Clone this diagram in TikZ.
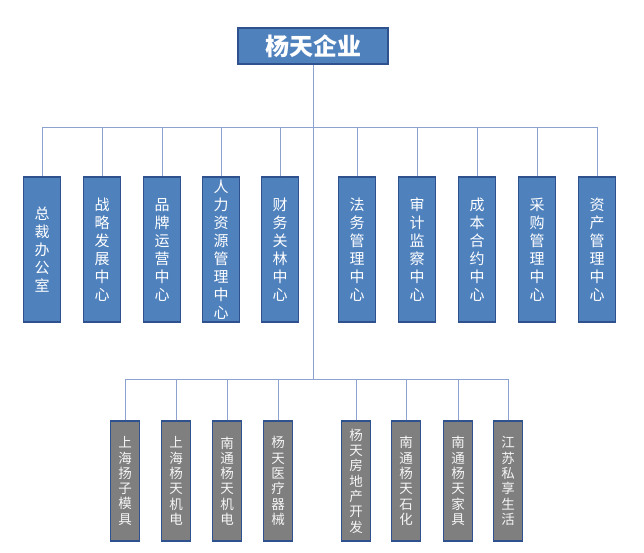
\documentclass[tikz,border=0pt]{standalone}
\usepackage{fontspec}
\setmainfont{Noto Sans CJK SC}
\usepackage{tikz}
\usepackage{xcolor}

\definecolor{boxblue}{HTML}{4F81BD}
\definecolor{edgeblue}{HTML}{2F528F}
\definecolor{boxgray}{HTML}{7F7F7F}
\definecolor{linkblue}{HTML}{8DA3CF}

\begin{document}
\begin{tikzpicture}[x=1pt, y=-1pt,
    dept/.style={draw=edgeblue, line width=1.2pt, fill=boxblue, text=white,
        minimum width=37pt, minimum height=145pt, inner sep=0pt, align=center,
        font=\fontsize{15}{18}\selectfont},
    firm/.style={draw=edgeblue, line width=1.2pt, fill=boxgray, text=white!92!gray,
        minimum width=29.5pt, minimum height=120pt, inner sep=0pt, align=center,
        font=\fontsize{13.5}{15.3}\selectfont},
    link/.style={draw=linkblue, line width=0.9pt}]
                \useasboundingbox (0, 0) rectangle (644, 552);

                \node[draw=edgeblue, line width=1.2pt, fill=boxblue, text=white,
                    minimum width=150pt, minimum height=36pt,
                    font=\fontsize{24}{28}\selectfont\bfseries] (corp) at (313, 46) {杨天企业};

                \coordinate (upbar) at (313, 127);
                \coordinate (lowbar) at (313, 379);

                % departments
                \node[dept] (zongcai) at (42, 249.5) {总\\裁\\办\\公\\室};
                \node[dept] (zhanlue) at (102, 249.5) {战\\略\\发\\展\\中\\心};
                \node[dept] (pinpai) at (162, 249.5) {品\\牌\\运\\营\\中\\心};
                \node[dept] (renli) at (221, 249.5) {人\\力\\资\\源\\管\\理\\中\\心};
                \node[dept] (caiwu) at (280, 249.5) {财\\务\\关\\林\\中\\心};
                \node[dept] (fawu) at (357, 249.5) {法\\务\\管\\理\\中\\心};
                \node[dept] (shenji) at (417, 249.5) {审\\计\\监\\察\\中\\心};
                \node[dept] (chengben) at (477, 249.5) {成\\本\\合\\约\\中\\心};
                \node[dept] (caigou) at (537, 249.5) {采\\购\\管\\理\\中\\心};
                \node[dept] (zichan) at (597, 249.5) {资\\产\\管\\理\\中\\心};

                % companies
                \node[firm] (yangzi) at (125, 481) {上\\海\\扬\\子\\模\\具};
                \node[firm] (jidian) at (176, 481) {上\\海\\杨\\天\\机\\电};
                \node[firm] (ntjidian) at (227, 481) {南\\通\\杨\\天\\机\\电};
                \node[firm] (yiliao) at (278, 481) {杨\\天\\医\\疗\\器\\械};
                \node[firm] (fangchan) at (356, 481) {杨\\天\\房\\地\\产\\开\\发};
                \node[firm] (shihua) at (406, 481) {南\\通\\杨\\天\\石\\化};
                \node[firm] (jiaju) at (458, 481) {南\\通\\杨\\天\\家\\具};
                \node[firm] (shenghuo) at (508, 481) {江\\苏\\私\\享\\生\\活};

                \draw[link]
                (corp.south) -- (lowbar)
                (zongcai.north |- upbar) -- (zichan.north |- upbar)
                (zongcai.north) -- (zongcai.north |- upbar)
                (zhanlue.north) -- (zhanlue.north |- upbar)
                (pinpai.north) -- (pinpai.north |- upbar)
                (renli.north) -- (renli.north |- upbar)
                (caiwu.north) -- (caiwu.north |- upbar)
                (fawu.north) -- (fawu.north |- upbar)
                (shenji.north) -- (shenji.north |- upbar)
                (chengben.north) -- (chengben.north |- upbar)
                (caigou.north) -- (caigou.north |- upbar)
                (zichan.north) -- (zichan.north |- upbar);

                \draw[link]
                (yangzi.north |- lowbar) -- (shenghuo.north |- lowbar)
                (yangzi.north) -- (yangzi.north |- lowbar)
                (jidian.north) -- (jidian.north |- lowbar)
                (ntjidian.north) -- (ntjidian.north |- lowbar)
                (yiliao.north) -- (yiliao.north |- lowbar)
                (fangchan.north) -- (fangchan.north |- lowbar)
                (shihua.north) -- (shihua.north |- lowbar)
                (jiaju.north) -- (jiaju.north |- lowbar)
                (shenghuo.north) -- (shenghuo.north |- lowbar);
            \end{tikzpicture}
\end{document}
